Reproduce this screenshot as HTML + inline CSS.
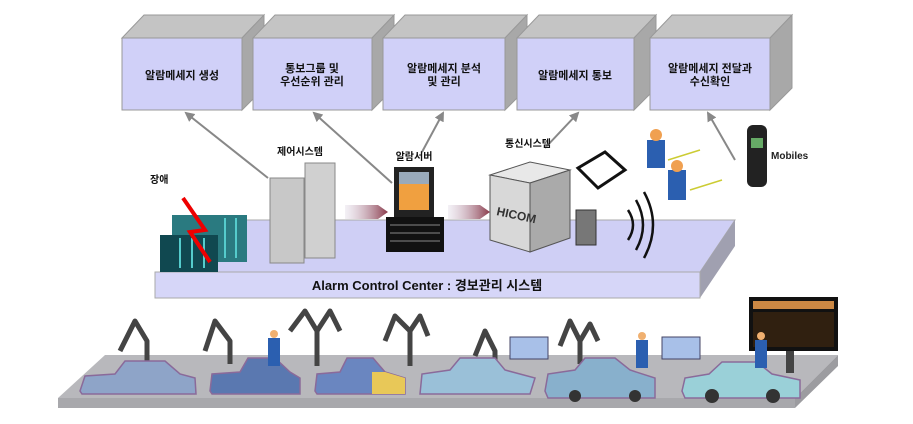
<!DOCTYPE html>
<html><head><meta charset="utf-8"><style>
html,body{margin:0;padding:0;background:#fff;width:913px;height:424px;overflow:hidden}
svg{display:block}
text{font-family:"Liberation Sans","Noto Sans CJK KR",sans-serif;font-weight:bold}
</style></head><body>
<svg width="913" height="424" viewBox="0 0 913 424">
<defs>
<marker id="ah" markerWidth="10" markerHeight="10" refX="8" refY="5" orient="auto" markerUnits="userSpaceOnUse"><path d="M0,0 L10,5 L0,10 z" fill="#888"/></marker>
<linearGradient id="ar" x1="0" x2="1"><stop offset="0" stop-color="#d8cfe0" stop-opacity="0.3"/><stop offset="1" stop-color="#8a3a4a"/></linearGradient>
</defs>
<g stroke="#999" stroke-width="1">
<g><polygon points="122,38 144,15 264,15 242,38" fill="#c4c4c4"/><polygon points="242,38 264,15 264,88 242,110" fill="#a8a8a8"/><rect x="122" y="38" width="120" height="72" fill="#d0d0f8"/></g>
<g><polygon points="253,38 275,15 394,15 372,38" fill="#c4c4c4"/><polygon points="372,38 394,15 394,88 372,110" fill="#a8a8a8"/><rect x="253" y="38" width="119" height="72" fill="#d0d0f8"/></g>
<g><polygon points="383,38 405,15 527,15 505,38" fill="#c4c4c4"/><polygon points="505,38 527,15 527,88 505,110" fill="#a8a8a8"/><rect x="383" y="38" width="122" height="72" fill="#d0d0f8"/></g>
<g><polygon points="517,38 539,15 656,15 634,38" fill="#c4c4c4"/><polygon points="634,38 656,15 656,88 634,110" fill="#a8a8a8"/><rect x="517" y="38" width="117" height="72" fill="#d0d0f8"/></g>
<g><polygon points="650,38 672,15 792,15 770,38" fill="#c4c4c4"/><polygon points="770,38 792,15 792,88 770,110" fill="#a8a8a8"/><rect x="650" y="38" width="120" height="72" fill="#d0d0f8"/></g>
</g>
<g font-size="11" fill="#111" text-anchor="middle">
<text x="182" y="79">알람메세지 생성</text>
<text x="312" y="72">통보그룹 및</text><text x="312" y="85">우선순위 관리</text>
<text x="444" y="72">알람메세지 분석</text><text x="444" y="85">및 관리</text>
<text x="575" y="79">알람메세지 통보</text>
<text x="710" y="72">알람메세지 전달과</text><text x="710" y="85">수신확인</text>
</g>
<g stroke="#888" stroke-width="2" marker-end="url(#ah)">
<line x1="268" y1="178" x2="186" y2="113"/>
<line x1="392" y1="183" x2="314" y2="113"/>
<line x1="422" y1="152" x2="443" y2="113"/>
<line x1="545" y1="148" x2="578" y2="113"/>
<line x1="735" y1="160" x2="708" y2="113"/>
</g>
<polygon points="205,220 735,220 700,272 160,272" fill="#cfcff5" stroke="#aaa"/>
<polygon points="700,272 735,220 735,246 700,298" fill="#a0a0b0"/>
<rect x="155" y="272" width="545" height="26" fill="#d6d6f8" stroke="#aaa"/>
<text x="427" y="290" font-size="13" text-anchor="middle" fill="#111">Alarm Control Center : 경보관리 시스템</text>
<rect x="172" y="215" width="75" height="47" fill="#2a7a80"/>
<rect x="160" y="235" width="58" height="37" fill="#104850"/>
<g stroke="#5cc" stroke-width="2"><line x1="180" y1="238" x2="180" y2="268"/><line x1="192" y1="238" x2="192" y2="268"/><line x1="204" y1="238" x2="204" y2="268"/><line x1="225" y1="218" x2="225" y2="258"/><line x1="236" y1="218" x2="236" y2="258"/></g>
<polyline points="183,198 205,230 190,232 210,262" fill="none" stroke="#e00" stroke-width="4"/>
<text x="150" y="183" font-size="10" fill="#111">장애</text>
<rect x="270" y="178" width="34" height="85" fill="#c8c8c8" stroke="#888"/>
<rect x="305" y="163" width="30" height="95" fill="#d0d0d0" stroke="#888"/>
<text x="300" y="155" font-size="10" text-anchor="middle" fill="#111">제어시스템</text>
<polygon points="345,205 378,205 388,212 378,219 345,219" fill="url(#ar)"/>
<polygon points="448,205 480,205 490,212 480,219 448,219" fill="url(#ar)"/>
<rect x="394" y="167" width="40" height="50" fill="#222"/>
<rect x="399" y="172" width="30" height="38" fill="#f0a040"/>
<rect x="399" y="172" width="30" height="12" fill="#9ab"/>
<rect x="386" y="217" width="58" height="35" fill="#111"/>
<g stroke="#888"><line x1="390" y1="225" x2="440" y2="225"/><line x1="390" y1="233" x2="440" y2="233"/><line x1="390" y1="241" x2="440" y2="241"/></g>
<text x="414" y="160" font-size="10" text-anchor="middle" fill="#111">알람서버</text>
<polygon points="490,175 530,162 570,170 530,183" fill="#e8e8e8" stroke="#555"/>
<polygon points="490,175 530,183 530,252 490,240" fill="#d8d8d8" stroke="#555"/>
<polygon points="530,183 570,170 570,238 530,252" fill="#aaa" stroke="#555"/>
<text x="496" y="215" font-size="12" fill="#333" transform="rotate(12 496 215)">HICOM</text>
<text x="528" y="147" font-size="10" text-anchor="middle" fill="#111">통신시스템</text>
<polygon points="578,168 605,152 625,170 598,188" fill="#fff" stroke="#111" stroke-width="3"/>
<rect x="576" y="210" width="20" height="35" fill="#777" stroke="#333"/>
<g fill="none" stroke="#111" stroke-width="2.5"><path d="M628,210 Q638,225 628,240"/><path d="M636,200 Q650,225 636,250"/><path d="M644,192 Q662,225 644,258"/></g>
<g fill="#2b5fb0"><rect x="647" y="140" width="18" height="28"/><rect x="668" y="170" width="18" height="30"/></g>
<g fill="#f0a050"><circle cx="656" cy="135" r="6"/><circle cx="677" cy="166" r="6"/></g>
<line x1="668" y1="160" x2="700" y2="150" stroke="#cc3" stroke-width="1.5"/>
<line x1="690" y1="190" x2="722" y2="180" stroke="#cc3" stroke-width="1.5"/>
<rect x="747" y="125" width="20" height="62" rx="6" fill="#222"/>
<rect x="751" y="138" width="12" height="10" fill="#6a6"/>
<text x="771" y="159" font-size="10" fill="#222" font-weight="normal">Mobiles</text>
<!-- floor -->
<polygon points="105,355 838,355 795,398 58,398" fill="#b8b8bc"/>
<polygon points="58,398 795,398 795,408 58,408" fill="#a8a8ac"/>
<polygon points="795,398 838,355 838,366 795,408" fill="#9c9ca0"/>
<g transform="translate(0,6)">
<g fill="none" stroke="#444" stroke-width="5" stroke-linejoin="round">
<path d="M147,362 L147,335 L135,315 L120,345"/>
<path d="M230,358 L230,335 L215,315 L205,345"/>
<path d="M317,360 L317,325 L305,305 L290,325 M317,325 L330,305 L340,325"/>
<path d="M410,360 L410,325 L395,310 L385,335 M410,325 L420,310 L428,330"/>
<path d="M495,370 L495,345 L485,325 L475,350"/>
<path d="M580,358 L580,335 L570,315 L560,340 M580,335 L590,318 L598,335"/>
</g>
<g stroke="#8a6a9a" stroke-width="1.5">
<path d="M80,385 L85,370 L115,368 L125,355 L165,355 L180,368 L195,372 L196,388 L82,388 Z" fill="#8ea4c8"/>
<path d="M210,385 L212,368 L240,366 L248,352 L275,352 L290,366 L300,372 L300,388 L212,388 Z" fill="#5a78b0"/>
<path d="M315,385 L317,368 L340,366 L347,352 L373,352 L385,366 L405,372 L405,388 L317,388 Z" fill="#6a86c0"/>
<path d="M372,366 L385,366 L405,372 L405,388 L372,388 Z" fill="#e8c858" stroke="none"/>
<path d="M420,388 L422,368 L450,364 L460,352 L495,352 L505,364 L535,372 L530,388 Z" fill="#9ac0d8"/>
<path d="M545,385 L548,368 L575,364 L585,352 L615,352 L630,364 L655,372 L655,392 L548,392 Z" fill="#88b0cc"/>
<path d="M682,385 L685,372 L709,368 L722,356 L757,356 L772,368 L800,374 L800,392 L685,392 Z" fill="#9ad0d8"/>
</g>
<g fill="#333"><circle cx="575" cy="390" r="6"/><circle cx="635" cy="390" r="6"/><circle cx="712" cy="390" r="7"/><circle cx="773" cy="390" r="7"/></g>
<g fill="#2b5fb0"><rect x="268" y="332" width="12" height="28"/><rect x="636" y="334" width="12" height="28"/></g>
<g fill="#f0b070"><circle cx="274" cy="328" r="4"/><circle cx="642" cy="330" r="4"/></g>
<rect x="510" y="331" width="38" height="22" fill="#a8c0e8" stroke="#446"/>
<rect x="662" y="331" width="38" height="22" fill="#a8c0e8" stroke="#446"/>
</g>
<rect x="749" y="297" width="89" height="54" fill="#111"/>
<rect x="753" y="301" width="81" height="8" fill="#c84"/>
<rect x="753" y="312" width="81" height="35" fill="#302010"/>
<rect x="786" y="351" width="8" height="22" fill="#444"/>
<rect x="755" y="340" width="12" height="28" fill="#2b5fb0"/>
<circle cx="761" cy="336" r="4" fill="#f0b070"/>
</svg>
</body></html>
